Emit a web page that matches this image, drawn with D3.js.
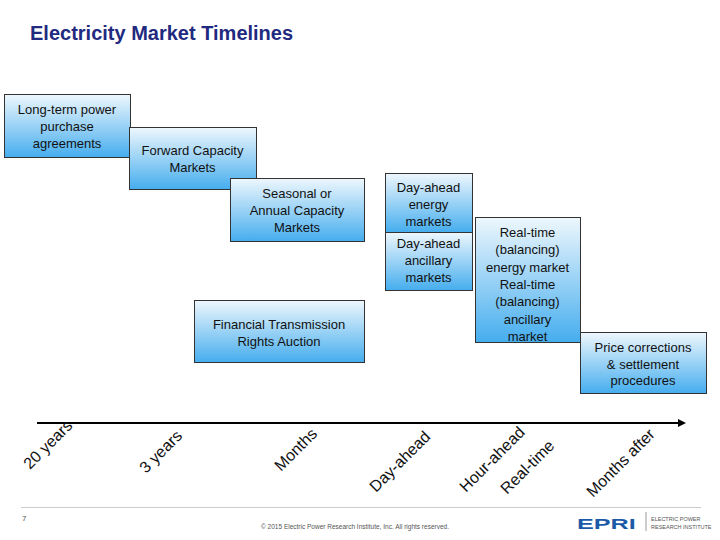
<!DOCTYPE html>
<html><head><meta charset="utf-8">
<script src="https://cdn.jsdelivr.net/npm/d3@7"></script>
<style>body{margin:0;background:#fff}</style>
</head><body>
<script>
// diagram content
const boxLabels = [
  ["Long-term power", "purchase", "agreements"],
  ["Forward Capacity", "Markets"],
  ["Seasonal or", "Annual Capacity", "Markets"],
  ["Day-ahead", "energy", "markets"],
  ["Day-ahead", "ancillary", "markets"],
  ["Real-time", "(balancing)", "energy market", "Real-time", "(balancing)", "ancillary", "market"],
  ["Financial Transmission", "Rights Auction"],
  ["Price corrections", "& settlement", "procedures"]
];
const timeLabels = ["20 years", "3 years", "Months", "Day-ahead", "Hour-ahead", "Real-time", "Months after"];

// layout: [x, y, w, h, firstBaseline, lineStep]
const boxLayout = [
  [4, 94, 126, 63, 114, 17],
  [129, 127, 127, 62, 155, 17],
  [230, 178, 134, 63, 198, 17],
  [385, 173, 87, 59, 192, 17],
  [385, 232, 87, 58, 248, 17],
  [475, 217, 105, 125, 237, 17.3],
  [194, 300, 170, 62, 329, 17],
  [580, 332, 126, 61, 352, 16.7]
];
const labelAnchors = [[30,470],[146,474],[281,472],[376,493],[466,493],[507,495],[593,498]];

const W = 720, H = 540;
const svg = d3.select("body").append("svg").attr("width", W).attr("height", H)
  .style("font-family", "Arial, 'Liberation Sans', sans-serif");

const defs = svg.append("defs");
const grad = defs.append("linearGradient").attr("id", "g").attr("x1", 0).attr("y1", 0).attr("x2", 0).attr("y2", 1);
grad.append("stop").attr("offset", "0%").attr("stop-color", "#eef7fd");
grad.append("stop").attr("offset", "100%").attr("stop-color", "#45adee");
defs.append("marker").attr("id", "arr").attr("viewBox", "0 0 10 10").attr("refX", 5).attr("refY", 5)
  .attr("markerWidth", 4).attr("markerHeight", 4).attr("orient", "auto")
  .append("path").attr("d", "M0,0L10,5L0,10z").attr("fill", "#000");

svg.append("text").attr("x", 30).attr("y", 40).attr("font-size", 20).attr("font-weight", "bold")
  .attr("fill", "#1f2a80").text("Electricity Market Timelines");

const box = svg.append("g").selectAll("g").data(boxLabels).join("g");
box.append("rect")
  .attr("x", (d, i) => boxLayout[i][0] + 0.5).attr("y", (d, i) => boxLayout[i][1] + 0.5)
  .attr("width", (d, i) => boxLayout[i][2]).attr("height", (d, i) => boxLayout[i][3])
  .attr("fill", "url(#g)").attr("stroke", "#333").attr("stroke-width", 1);
box.each(function (d, i) {
  const [x, y, w, h, b, s] = boxLayout[i];
  d3.select(this).selectAll("text").data(d).join("text")
    .attr("x", x + w / 2).attr("y", (t, j) => b + j * s)
    .attr("text-anchor", "middle").attr("font-size", 13).attr("fill", "#111").text(t => t);
});

// timeline axis
svg.append("line").attr("x1", 37).attr("x2", 682).attr("y1", 423).attr("y2", 423)
  .attr("stroke", "#000").attr("stroke-width", 2).attr("marker-end", "url(#arr)");
svg.append("g").selectAll("text").data(timeLabels).join("text")
  .attr("transform", (d, i) => `translate(${labelAnchors[i][0]},${labelAnchors[i][1]}) rotate(-45)`)
  .attr("font-size", 16).attr("fill", "#111").text(d => d);

// footer
svg.append("line").attr("x1", 21).attr("x2", 701).attr("y1", 507.5).attr("y2", 507.5).attr("stroke", "#ccc");
svg.append("text").attr("x", 22).attr("y", 521).attr("font-size", 8).attr("fill", "#555").text("7");
svg.append("text").attr("x", 355).attr("y", 529).attr("text-anchor", "middle").attr("font-size", 6.5)
  .attr("fill", "#555").text("© 2015 Electric Power Research Institute, Inc. All rights reserved.");
svg.append("text").attr("x", 577).attr("y", 529).attr("font-size", 18).attr("font-weight", "bold")
  .attr("fill", "#1b5aa6").attr("transform", "translate(577,529) scale(1.4,0.8) translate(-577,-529)").text("EPRI");
svg.append("line").attr("x1", 646).attr("x2", 646).attr("y1", 512).attr("y2", 531).attr("stroke", "#999");
svg.append("text").attr("x", 651).attr("y", 521).attr("font-size", 5.5).attr("fill", "#555").text("ELECTRIC POWER");
svg.append("text").attr("x", 651).attr("y", 529).attr("font-size", 5.5).attr("fill", "#555").text("RESEARCH INSTITUTE");
</script>
</body></html>
